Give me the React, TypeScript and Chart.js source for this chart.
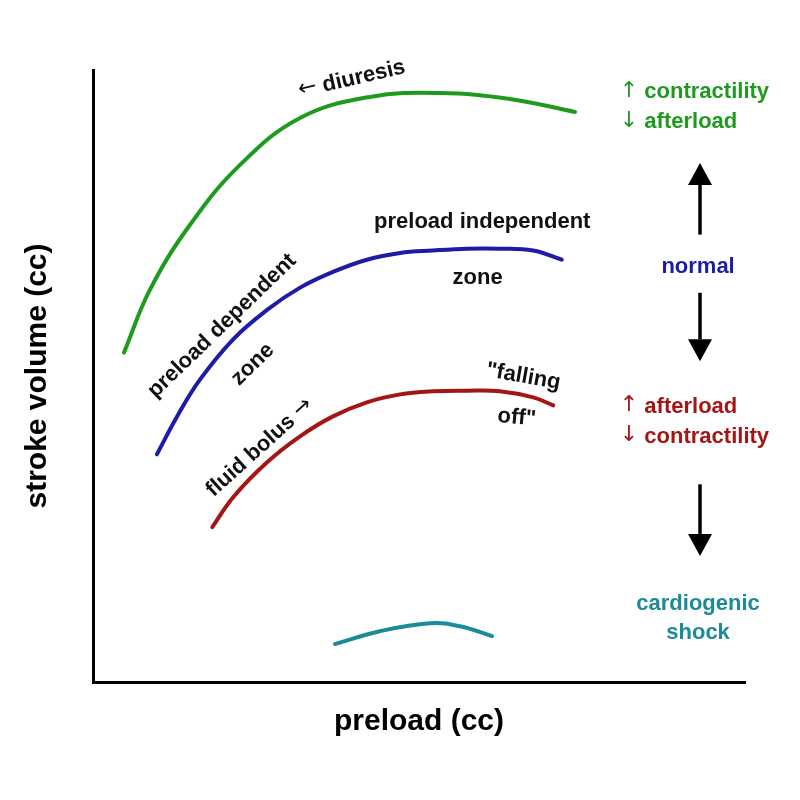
import React, { useEffect, useRef } from "react";
import { Chart, registerables } from "chart.js";

Chart.register(...registerables);

// ---- data (preload in arbitrary units 0-100, stroke volume 0-100) ----
const greenX = [4.75, 8.74, 14.88, 22.55, 31.75, 42.48, 53.22, 63.96, 73.93];
const greenY = [53.83, 64.11, 74.71, 84.5, 92.17, 95.6, 96.25, 95.27, 93.15];

const blueX = [9.8, 12.9, 16.4, 21.5, 26.7, 31.7, 36.8, 42.0, 47.1, 52.1, 57.4, 62.4, 67.5, 71.9];
const blueY = [37.2, 43.4, 49.4, 56.0, 60.8, 64.4, 67.0, 69.0, 70.1, 70.5, 70.8, 70.8, 70.5, 69.0];

const redX = [18.3, 21.5, 26.7, 31.7, 36.8, 42.0, 47.1, 52.1, 57.4, 62.4, 67.5, 70.6];
const redY = [25.3, 30.2, 35.9, 40.1, 43.4, 45.7, 47.0, 47.5, 47.6, 47.5, 46.5, 45.2];

const tealX = [37.1, 44.0, 51.7, 56.3, 61.2];
const tealY = [6.2, 8.3, 9.6, 9.1, 7.5];

const xTitle = "preload (cc)";
const yTitle = "stroke volume (cc)";

const GREEN = "#1e9b1e";
const BLUE = "#1c1ca6";
const RED = "#a41616";
const TEAL = "#1b8a99";
const BLACK = "#111111";

type Label = { text: string; x: number; y: number; angle: number; color: string; align: "left" | "center"; size: number };

const labels: Label[] = [
  { text: "\u2190 diuresis", x: 39.7, y: 98.5, angle: -13, color: BLACK, align: "center", size: 22 },
  { text: "preload independent", x: 59.7, y: 75.2, angle: 0, color: BLACK, align: "center", size: 22 },
  { text: "zone", x: 59.0, y: 66.1, angle: 0, color: BLACK, align: "center", size: 22 },
  { text: "preload dependent", x: 19.8, y: 58.2, angle: -44, color: BLACK, align: "center", size: 22 },
  { text: "zone", x: 24.5, y: 51.9, angle: -44, color: BLACK, align: "center", size: 22 },
  { text: "fluid bolus \u2192", x: 25.6, y: 38.3, angle: -42, color: BLACK, align: "center", size: 22 },
  { text: "\"falling", x: 66.0, y: 49.9, angle: 10, color: BLACK, align: "center", size: 22 },
  { text: "off\"", x: 65.0, y: 43.2, angle: 5, color: BLACK, align: "center", size: 22 },
  { text: "\u2191 contractility", x: 80.8, y: 96.4, angle: 0, color: GREEN, align: "left", size: 22 },
  { text: "\u2193 afterload", x: 80.8, y: 91.5, angle: 0, color: GREEN, align: "left", size: 22 },
  { text: "normal", x: 92.8, y: 67.9, angle: 0, color: BLUE, align: "center", size: 22 },
  { text: "\u2191 afterload", x: 80.8, y: 45.0, angle: 0, color: RED, align: "left", size: 22 },
  { text: "\u2193 contractility", x: 80.8, y: 40.1, angle: 0, color: RED, align: "left", size: 22 },
  { text: "cardiogenic", x: 92.8, y: 12.7, angle: 0, color: TEAL, align: "center", size: 22 },
  { text: "shock", x: 92.8, y: 8.0, angle: 0, color: TEAL, align: "center", size: 22 },
];

type Arrow = { x: number; from: number; to: number };
const arrows: Arrow[] = [
  { x: 93.1, from: 73.1, to: 84.8 },
  { x: 93.1, from: 63.6, to: 52.4 },
  { x: 93.1, from: 32.3, to: 20.6 },
];

const TEXT_FONT = '"Liberation Sans", Arial, sans-serif';
const ARROW_FONT = '"DejaVu Sans", sans-serif';
const ARROW_RE = /[\u2190-\u2193]/;

function drawMixed(ctx: CanvasRenderingContext2D, text: string, size: number, align: "left" | "center") {
  // split text into runs: arrows use DejaVu Sans, other text uses bold Liberation Sans
  const runs: { t: string; arrow: boolean }[] = [];
  for (const ch of text) {
    const isArrow = ARROW_RE.test(ch);
    const last = runs[runs.length - 1];
    if (last && last.arrow === isArrow) last.t += ch;
    else runs.push({ t: ch, arrow: isArrow });
  }
  const fontFor = (r: { arrow: boolean }) => (r.arrow ? `${size}px ${ARROW_FONT}` : `bold ${size}px ${TEXT_FONT}`);
  let total = 0;
  const widths = runs.map((r) => {
    ctx.font = fontFor(r);
    const w = ctx.measureText(r.t).width;
    total += w;
    return w;
  });
  let cx = align === "center" ? -total / 2 : 0;
  ctx.textAlign = "left";
  ctx.textBaseline = "middle";
  runs.forEach((r, i) => {
    ctx.font = fontFor(r);
    ctx.fillText(r.t, cx, r.arrow ? -1 : 0);
    cx += widths[i];
  });
}

const annotationPlugin = {
  id: "annotations",
  afterDatasetsDraw(chart: any) {
    const { ctx } = chart;
    const xs = chart.scales.x;
    const ys = chart.scales.y;
    ctx.save();
    for (const a of labels) {
      const px = xs.getPixelForValue(a.x);
      const py = ys.getPixelForValue(a.y);
      ctx.save();
      ctx.translate(px, py);
      ctx.rotate((a.angle * Math.PI) / 180);
      ctx.fillStyle = a.color;
      drawMixed(ctx, a.text, a.size, a.align);
      ctx.restore();
    }
    for (const ar of arrows) {
      const px = xs.getPixelForValue(ar.x);
      const p0 = ys.getPixelForValue(ar.from);
      const p1 = ys.getPixelForValue(ar.to);
      const dir = p1 > p0 ? 1 : -1;
      const headLen = 22;
      const headHalf = 12;
      ctx.strokeStyle = "#000";
      ctx.fillStyle = "#000";
      ctx.lineWidth = 3.5;
      ctx.beginPath();
      ctx.moveTo(px, p0);
      ctx.lineTo(px, p1 - dir * headLen);
      ctx.stroke();
      ctx.beginPath();
      ctx.moveTo(px, p1);
      ctx.lineTo(px - headHalf, p1 - dir * headLen);
      ctx.lineTo(px + headHalf, p1 - dir * headLen);
      ctx.closePath();
      ctx.fill();
    }
    ctx.restore();
  },
};

function pts(xs: number[], ys: number[]) {
  return xs.map((x, i) => ({ x, y: ys[i] }));
}

export default function App() {
  const ref = useRef<HTMLCanvasElement | null>(null);
  useEffect(() => {
    if (!ref.current) return;
    const ds = (data: any, color: string) => ({
      data,
      borderColor: color,
      borderWidth: 4,
      pointRadius: 0,
      fill: false,
      tension: 0.4,
      borderCapStyle: "round" as const,
      borderJoinStyle: "round" as const,
    });
    const chart = new Chart(ref.current, {
      type: "line",
      data: {
        datasets: [
          ds(pts(greenX, greenY), GREEN),
          ds(pts(blueX, blueY), BLUE),
          ds(pts(redX, redY), RED),
          ds(pts(tealX, tealY), TEAL),
        ],
      },
      options: {
        animation: false,
        responsive: false,
        events: [],
        layout: { padding: { left: 8, right: 55, top: 70, bottom: 60 } },
        plugins: { legend: { display: false }, tooltip: { enabled: false } },
        scales: {
          x: {
            type: "linear",
            min: 0,
            max: 100,
            grid: { display: false, drawTicks: false },
            ticks: { display: false },
            border: { display: true, color: "#000", width: 3 },
            title: {
              display: true,
              text: xTitle,
              color: "#000",
              font: { family: TEXT_FONT, size: 30, weight: "bold" },
              padding: { top: 22, bottom: 0 },
            },
          },
          y: {
            type: "linear",
            min: 0,
            max: 100,
            grid: { display: false, drawTicks: false },
            ticks: { display: false },
            border: { display: true, color: "#000", width: 3 },
            title: {
              display: true,
              text: yTitle,
              color: "#000",
              font: { family: TEXT_FONT, size: 30, weight: "bold" },
              padding: { top: 12, bottom: 37 },
            },
          },
        },
      },
      plugins: [annotationPlugin],
    });
    return () => chart.destroy();
  }, []);
  return (
    <div style={{ position: "absolute", left: 0, top: 0, width: 800, height: 800, background: "#fff" }}>
      <canvas ref={ref} width={800} height={800} />
    </div>
  );
}
